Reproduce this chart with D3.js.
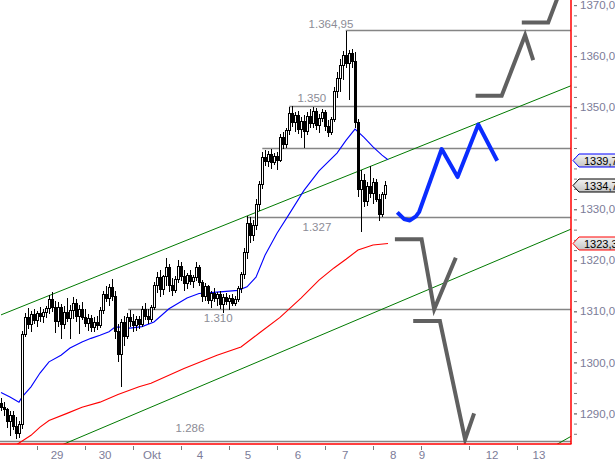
<!DOCTYPE html>
<html><head><meta charset="utf-8">
<script src="https://cdn.jsdelivr.net/npm/d3@7"></script>
<style>html,body{margin:0;padding:0;background:#fff;overflow:hidden}text{font-family:"Liberation Sans",Arial,sans-serif}</style>
</head><body><svg id="c" width="615" height="461"></svg>
<script>
// ---- DATA ----
// hourly-ish bars: [open, high, low, close], one per slot starting at slot 0
const ohlc = [
[1292.0,1293.0,1290.5,1291.2],[1291.2,1292.2,1289.5,1290.8],[1290.8,1291.0,1287.2,1288.5],[1288.5,1290.4,1285.6,1289.6],
[1289.6,1290.5,1286.8,1287.5],[1287.5,1289.2,1284.9,1286.0],[1286.0,1288.6,1285.1,1287.9],[1287.9,1306.2,1287.0,1305.5],
[1305.5,1309.6,1305.0,1308.8],[1308.8,1310.6,1306.5,1307.5],[1307.5,1310.0,1306.0,1309.3],[1309.3,1310.5,1307.5,1308.2],
[1308.2,1310.1,1307.0,1309.6],[1309.6,1310.8,1308.0,1308.9],[1308.9,1310.4,1307.8,1309.8],[1309.8,1311.0,1308.6,1310.5],
[1310.5,1313.2,1309.4,1312.4],[1312.4,1313.8,1309.8,1310.7],[1310.7,1312.0,1305.8,1308.0],[1308.0,1311.8,1307.0,1310.8],
[1310.8,1311.5,1304.5,1307.4],[1307.4,1311.0,1306.5,1309.8],[1309.8,1312.6,1308.0,1308.6],[1308.6,1311.2,1304.6,1310.2],
[1310.2,1312.8,1308.5,1311.5],[1311.5,1312.4,1308.0,1309.0],[1309.0,1311.3,1305.5,1310.4],[1310.4,1311.8,1308.2,1308.8],
[1308.8,1310.4,1307.0,1307.6],[1307.6,1309.4,1306.2,1308.6],[1308.6,1309.2,1306.0,1306.8],[1306.8,1308.8,1306.0,1307.9],
[1307.9,1309.0,1306.4,1307.2],[1307.2,1310.8,1306.8,1310.2],[1310.2,1314.0,1309.5,1313.2],[1313.2,1315.0,1311.8,1312.6],
[1312.6,1315.4,1311.0,1314.6],[1314.6,1316.4,1312.0,1313.0],[1313.0,1314.0,1304.5,1306.0],[1306.0,1307.5,1300.0,1301.5],
[1301.5,1308.5,1295.2,1307.8],[1307.8,1309.0,1303.2,1305.0],[1305.0,1309.6,1304.5,1308.8],[1308.8,1310.2,1307.0,1308.0],
[1308.0,1309.4,1306.0,1307.2],[1307.2,1309.0,1306.2,1308.4],[1308.4,1309.0,1306.6,1307.4],[1307.4,1311.0,1307.0,1310.4],
[1310.4,1311.6,1308.2,1309.0],[1309.0,1310.4,1307.6,1308.4],[1308.4,1311.2,1308.0,1310.8],[1310.8,1315.8,1310.2,1315.0],
[1315.0,1317.8,1313.6,1316.6],[1316.6,1318.0,1312.8,1314.2],[1314.2,1317.2,1313.2,1316.8],[1316.8,1320.4,1315.0,1318.6],
[1318.6,1319.2,1313.8,1315.0],[1315.0,1316.6,1313.0,1314.0],[1314.0,1317.0,1313.6,1316.2],[1316.2,1320.0,1315.6,1318.8],
[1318.8,1319.6,1316.0,1316.8],[1316.8,1318.0,1314.0,1315.4],[1315.4,1317.6,1314.4,1317.0],[1317.0,1318.0,1315.2,1315.8],
[1315.8,1317.2,1314.6,1316.6],[1316.6,1319.6,1316.0,1318.6],[1318.6,1319.0,1315.0,1315.6],[1315.6,1316.2,1311.8,1313.0],
[1313.0,1315.6,1312.0,1314.8],[1314.8,1315.2,1311.4,1312.2],[1312.2,1314.0,1310.6,1313.4],[1313.4,1314.6,1311.8,1312.6],
[1312.6,1313.8,1311.0,1313.2],[1313.2,1314.0,1310.4,1311.4],[1311.4,1313.4,1309.6,1312.8],[1312.8,1313.6,1311.2,1312.0],
[1312.0,1313.2,1310.2,1312.6],[1312.6,1313.4,1311.0,1311.6],[1311.6,1313.0,1311.0,1312.4],[1312.4,1315.0,1311.8,1314.4],
[1314.4,1317.8,1313.6,1317.2],[1317.2,1322.4,1316.4,1321.6],[1321.6,1328.6,1320.2,1327.2],[1327.2,1328.4,1323.4,1324.8],
[1324.8,1327.8,1323.8,1326.8],[1326.8,1332.0,1326.0,1331.0],[1331.0,1335.6,1329.6,1334.8],[1334.8,1341.2,1334.0,1340.2],
[1340.2,1341.6,1338.4,1339.4],[1339.4,1341.4,1338.2,1340.8],[1340.8,1341.8,1337.8,1339.2],[1339.2,1341.0,1338.6,1340.4],
[1340.4,1341.2,1337.6,1339.6],[1339.6,1344.8,1339.2,1344.0],[1344.0,1345.2,1341.8,1342.6],[1342.6,1346.0,1342.0,1345.4],
[1345.4,1350.0,1344.6,1348.8],[1348.8,1350.2,1346.2,1347.0],[1347.0,1349.0,1345.2,1348.4],[1348.4,1349.2,1344.8,1345.6],
[1345.6,1348.0,1344.0,1347.2],[1347.2,1348.4,1342.0,1345.2],[1345.2,1349.0,1344.6,1348.2],[1348.2,1349.6,1346.0,1346.8],
[1346.8,1350.0,1346.0,1349.2],[1349.2,1349.8,1345.6,1346.4],[1346.4,1348.6,1345.0,1347.8],[1347.8,1349.6,1347.0,1349.0],
[1349.0,1349.4,1345.4,1346.2],[1346.2,1347.4,1344.2,1345.0],[1345.0,1348.0,1344.6,1347.6],[1347.6,1354.0,1347.0,1353.0],
[1353.0,1356.8,1351.8,1355.6],[1355.6,1359.4,1353.0,1358.2],[1358.2,1361.0,1355.4,1360.2],[1360.2,1365.0,1357.6,1358.6],
[1358.6,1361.2,1351.4,1360.6],[1360.6,1361.4,1357.6,1359.0],[1359.0,1360.8,1346.0,1347.0],[1347.0,1347.6,1332.4,1333.8],
[1333.8,1337.6,1325.6,1335.6],[1335.6,1337.0,1330.4,1331.6],[1331.6,1335.4,1330.6,1334.4],[1334.4,1338.4,1332.2,1333.0],
[1333.0,1336.2,1331.0,1335.2],[1335.2,1336.0,1331.4,1332.0],[1332.0,1333.0,1327.6,1329.0],[1329.0,1333.4,1328.4,1332.8],
[1332.8,1335.6,1332.0,1334.7]
];
// moving averages: [slot, value]
const maBlue = [[0,1294.1],[3,1293.2],[6,1292.2],[7,1293.2],[10,1295.2],[13,1297.9],[16,1300.1],[20,1301.4],[23,1302.8],
[27,1304.0],[30,1304.7],[33,1305.3],[36,1306.0],[38,1306.9],[40,1306.9],[43,1306.7],[47,1307.0],[51,1307.9],[56,1310.5],
[62,1312.6],[66,1313.5],[73,1313.8],[79,1314.1],[82,1314.8],[85,1316.7],[88,1321.0],[92,1325.3],[96,1329.0],[101,1333.7],
[106,1337.5],[112,1341.0],[115,1343.5],[118,1345.7],[121,1344.1],[124,1342.2],[127,1340.6],[129,1339.7]];
const maRed = [[5,1283.8],[10,1285.7],[13,1287.3],[16,1288.6],[22,1290.0],[27,1291.2],[33,1292.2],[39,1293.7],[46,1295.2],
[50,1295.9],[61,1298.8],[72,1301.4],[80,1303.0],[86,1305.7],[93,1308.8],[100,1312.6],[106,1316.1],[111,1318.5],[115,1320.2],
[119,1322.0],[124,1323.0],[129,1323.3]];
// trend channel lines: [[slot,value],[slot,value]]
const channels = [[[0,1309.3],[190,1354.2]],[[15,1282.5],[190,1326.1]],[[184,1283.5],[190,1285.5]]];
// horizontal levels: start slot, value
const levels = [[114.9,1365.06],[96.1,1350.17],[87.1,1341.94],[81.9,1328.42],[42.4,1310.39],[-2,1284.65]];
const levelLabels = ["1.364,95","1.350","1.327","1.310","1.286"];
const levelLabelAnchor = [[110,1365.51],[103.6,1351.11],[105.3,1325.64],[72.4,1307.99],[63,1286.35]];
// scenario projections: [slot, value]
const projGray = [
 [[173.6,1366.6],[182.4,1366.6],[186.2,1372.5]],
 [[158.2,1352.25],[166.9,1352.25],[174.7,1364.1],[177.4,1359.2]],
 [[131.3,1324.1],[140.2,1324.1],[144.4,1310.4],[151.6,1320.5]],
 [[137.4,1308.1],[146.3,1308.1],[154.7,1284.9],[157.7,1290.0]]
];
const projBlue = [[132.1,1329.4],[134.3,1328.1],[136.3,1327.8],[138.3,1328.6],[139.4,1329.5],[146.9,1341.8],[152.2,1336.3],[159.1,1346.6],[165.4,1339.5]];
// axis
const dayTicks = [12,28,44,60,76,92,108,124,140,156,172];
const dayLabels = ["29","30","Okt","4","5","6","7","8","9","12","13"];
const dayLabelSlots = [18.7,34.7,50.3,66.3,82.3,99,114.7,130.7,140.3,163.7,179.3];
const yMajor = [1290,1300,1310,1320,1330,1340,1350,1360,1370];
const yLabeled = [1290,1300,1310,1320,1330,1350,1360,1370]; // 1340 hidden behind the price marker
const yMinor = d3.range(1286,1371,2);
const markers = [[1339.7,"1339,73","#0000ff"],[1334.7,"1334,70","#000000"],[1323.3,"1323,31","#ff0000"]];

// ---- CHART ----
const PR=571, PB=444;
const x = d3.scaleLinear().domain([0,190]).range([1,PR]);
const y = d3.scaleLinear().domain([1284,1371]).range([PB,0]);
const svg = d3.select('#c');
const defs = svg.append('defs');
defs.append('clipPath').attr('id','clip').append('rect').attr('x',0).attr('y',0).attr('width',PR).attr('height',PB);
const grad = defs.append('linearGradient').attr('id','mk').attr('x1',0).attr('x2',0).attr('y1',0).attr('y2',1);
grad.append('stop').attr('offset','0%').attr('stop-color','#f4f4f4');
grad.append('stop').attr('offset','100%').attr('stop-color','#c4c4c4');

const plot = svg.append('g').attr('clip-path','url(#clip)');
// levels
plot.selectAll('line.lv').data(levels).enter().append('line')
 .attr('x1',d=>x(d[0])).attr('x2',PR).attr('y1',d=>Math.round(y(d[1]))+0.5).attr('y2',d=>Math.round(y(d[1]))+0.5)
 .attr('stroke','#858585').attr('stroke-width',1.4);
// channels
const ln = d3.line().x(d=>x(d[0])).y(d=>y(d[1]));
plot.selectAll('path.ch').data(channels).enter().append('path').attr('d',ln)
 .attr('fill','none').attr('stroke','#007a00').attr('stroke-width',1);
// MAs
plot.append('path').datum(maRed).attr('d',ln).attr('fill','none').attr('stroke','#ff0000').attr('stroke-width',1.1);
plot.append('path').datum(maBlue).attr('d',ln).attr('fill','none').attr('stroke','#0000ff').attr('stroke-width',1.1);
// candles
const cg = plot.append('g').attr('shape-rendering','crispEdges');
ohlc.forEach((d,i)=>{
  const cx = Math.round(x(i));
  cg.append('line').attr('x1',cx+0.5).attr('x2',cx+0.5).attr('y1',y(d[1])).attr('y2',y(d[2])).attr('stroke','#000').attr('stroke-width',1.2);
  const top = y(Math.max(d[0],d[3])), bot = y(Math.min(d[0],d[3]));
  cg.append('rect').attr('x',cx-0.5).attr('y',top).attr('width',2).attr('height',Math.max(1,bot-top))
    .attr('fill',d[3]>=d[0]?'#fff':'#000').attr('stroke','#000').attr('stroke-width',1);
});
// projections
plot.selectAll('path.pg').data(projGray).enter().append('path').attr('d',ln)
 .attr('fill','none').attr('stroke','#606060').attr('stroke-width',4).attr('stroke-linejoin','miter');
plot.append('path').datum(projBlue).attr('d',ln)
 .attr('fill','none').attr('stroke','#0a2cff').attr('stroke-width',4).attr('stroke-linejoin','round');
// level labels
plot.selectAll('text.ll').data(levelLabels).enter().append('text')
 .attr('x',(d,i)=>x(levelLabelAnchor[i][0])).attr('y',(d,i)=>y(levelLabelAnchor[i][1]))
 .attr('text-anchor','middle').attr('font-size','11.5px').attr('fill','#8c8c96').text(d=>d);

// frame
svg.append('line').attr('x1',0).attr('x2',PR+0.5).attr('y1',PB).attr('y2',PB).attr('stroke','#ff0000').attr('stroke-width',1.5);
svg.append('line').attr('x1',PR).attr('x2',PR).attr('y1',0).attr('y2',PB).attr('stroke','#ff0000').attr('stroke-width',1.5);

// y axis
const yAx = svg.append('g').attr('transform',`translate(${PR+3},0)`)
 .call(d3.axisRight(y).tickValues(yMajor).tickSize(3).tickPadding(3)
   .tickFormat(v=>yLabeled.includes(v)?v.toFixed(2).replace('.',','):''));
const yAx2 = svg.append('g').attr('transform',`translate(${PR+3},0)`)
 .call(d3.axisRight(y).tickValues(yMinor).tickSize(3).tickFormat(''));
[yAx,yAx2].forEach(g=>{g.select('.domain').remove();g.selectAll('line').attr('stroke','#7a7a7a');});
yAx.selectAll('text').attr('fill','#7c7c98').attr('font-size','11.5px').attr('font-family','"Liberation Sans",Arial,sans-serif');

// x axis
const xAx = svg.append('g').attr('transform',`translate(0,${PB+2})`)
 .call(d3.axisBottom(x).tickValues(dayTicks).tickSize(4).tickFormat(''));
xAx.select('.domain').remove();
xAx.selectAll('line').attr('stroke','#7a7a7a');
svg.selectAll('text.xl').data(dayLabels).enter().append('text')
 .attr('x',(d,i)=>x(dayLabelSlots[i])).attr('y',459).attr('text-anchor','middle')
 .attr('font-size','11.5px').attr('fill','#7c7c98').text(d=>d);

// price markers
markers.forEach(m=>{
  const yc = Math.round(y(m[0]))+0.5;
  const g = svg.append('g');
  g.append('path').attr('d',`M${PR+2},${yc} L${PR+8},${yc-6.5} L${PR+60},${yc-6.5} L${PR+60},${yc+6.5} L${PR+8},${yc+6.5} Z`)
   .attr('fill','url(#mk)').attr('stroke',m[2]).attr('stroke-width',1);
  g.append('text').attr('x',PR+13).attr('y',yc+4).attr('font-size','11px').attr('fill','#000').text(m[1]);
});
</script></body></html>
